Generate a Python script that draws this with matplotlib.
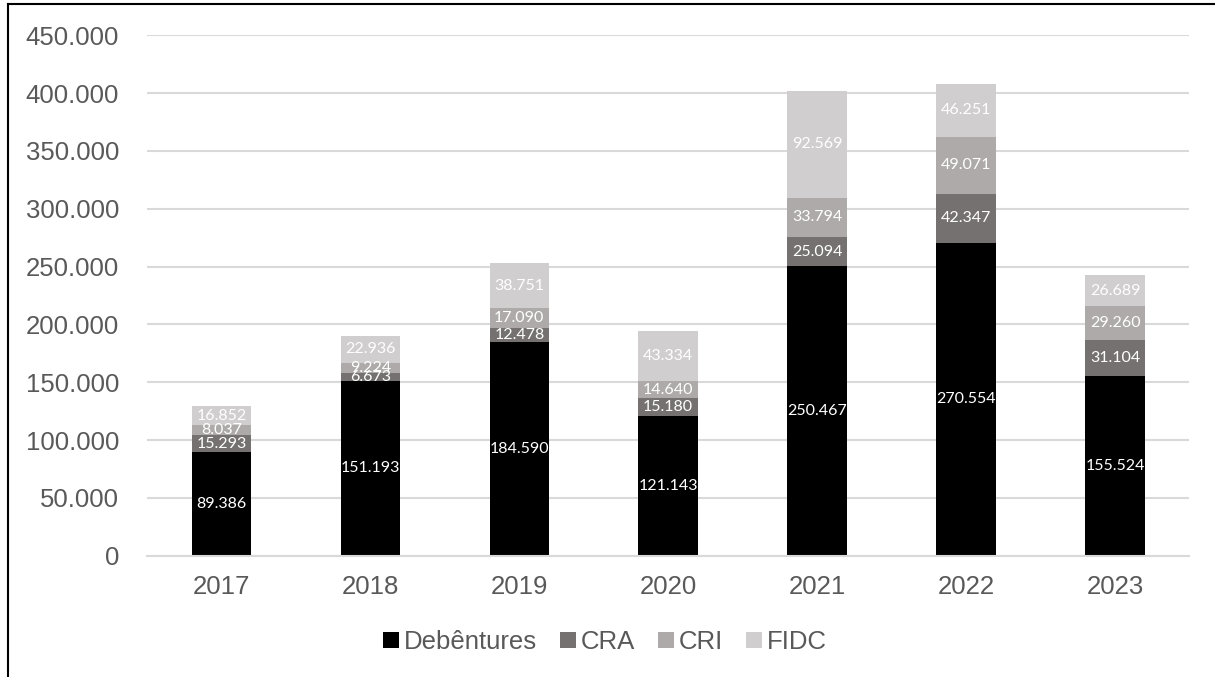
import numpy as np
import matplotlib.pyplot as plt
from matplotlib.lines import Line2D

years = ['2017', '2018', '2019', '2020', '2021', '2022', '2023']
debentures = [89386, 151193, 184590, 121143, 250467, 270554, 155524]
cra = [15293, 6673, 12478, 15180, 25094, 42347, 31104]
cri = [8037, 9224, 17090, 14640, 33794, 49071, 29260]
fidc = [16852, 22936, 38751, 43334, 92569, 46251, 26689]

series = [('Debêntures', debentures, '#000000'),
          ('CRA', cra, '#767171'),
          ('CRI', cri, '#AEAAAA'),
          ('FIDC', fidc, '#D0CECE')]


def fmt(v):
    return f'{v:,.0f}'.replace(',', '.')


fig = plt.figure(figsize=(12.15, 6.77), dpi=100)
ax = fig.add_axes([0.121, 0.179, 0.858, 0.769])

x = np.arange(len(years))
bottom = np.zeros(len(years))
for name, vals, col in series:
    vals = np.array(vals)
    ax.bar(x, vals, 0.40, bottom=bottom, color=col, label=name, zorder=2)
    for xi, b, v in zip(x, bottom, vals):
        ax.text(xi, b + v / 2, fmt(v), ha='center', va='center',
                color='white', fontsize=11.5, family='Lato', zorder=3)
    bottom += vals

ax.set_xlim(-0.5, 6.5)
ax.set_ylim(0, 450000)
ax.set_yticks(np.arange(0, 450001, 50000))
ax.set_yticklabels([fmt(t) for t in np.arange(0, 450001, 50000)])
ax.set_xticks(x)
ax.set_xticklabels(years)
ax.grid(axis='y', color='#D9D9D9', linewidth=1.5, zorder=0)
for s in ['top', 'right', 'left']:
    ax.spines[s].set_visible(False)
ax.spines['bottom'].set_color('#D9D9D9')
ax.spines['bottom'].set_linewidth(1.5)
ax.tick_params(length=0, labelsize=18.5, labelcolor='#595959')
for lab in ax.get_xticklabels() + ax.get_yticklabels():
    lab.set_family('Liberation Sans')
ax.tick_params(axis='x', pad=14)
ax.tick_params(axis='y', pad=20)

leg = fig.legend(loc='center', bbox_to_anchor=(0.498, 0.052), ncol=4,
                 frameon=False, prop={'family': 'Liberation Sans', 'size': 18.5},
                 handlelength=0.6, handleheight=0.6, handletextpad=0.2,
                 columnspacing=0.9)
for t in leg.get_texts():
    t.set_color('#595959')

# outer frame (top and left edges)
fig.add_artist(Line2D([8 / 1215, 1], [1 - 4 / 677, 1 - 4 / 677],
                      color='black', linewidth=1.5, transform=fig.transFigure))
fig.add_artist(Line2D([8 / 1215, 8 / 1215], [0, 1 - 4 / 677],
                      color='black', linewidth=1.5, transform=fig.transFigure))

fig.savefig('out.png', dpi=100)
